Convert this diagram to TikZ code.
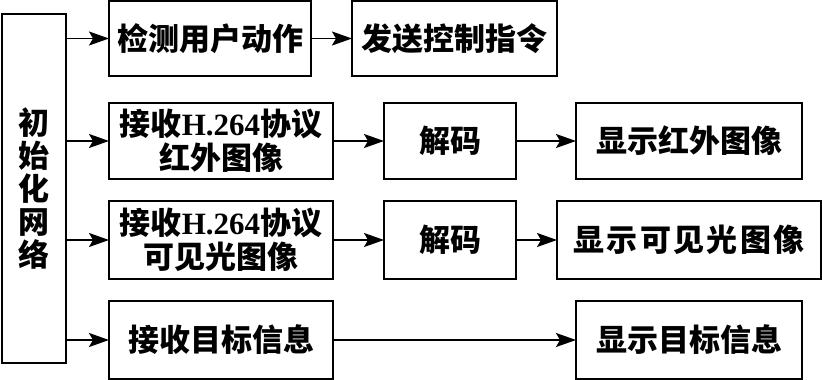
\documentclass[tikz,border=0pt]{standalone}
\usepackage{fontspec}
\setmainfont{Noto Sans CJK SC}
\newfontfamily\latinbf{Liberation Serif}
\usepackage{tikz}
\usetikzlibrary{arrows.meta}

\begin{document}
\begin{tikzpicture}[x=1pt,y=-1pt,
            box/.style={draw, line width=1.8pt, inner sep=0pt, outer sep=0pt, align=center,
                        font=\fontsize{31}{34}\selectfont\bfseries},
            arr/.style={line width=1.8pt, -{Stealth[length=20pt,width=14pt,inset=4pt]}}]
        \useasboundingbox (0,0) rectangle (822,380);
        \node[box, minimum width=64pt, minimum height=349pt, font=\fontsize{31}{33}\selectfont\bfseries] (init) at (34,188.5) {初\\始\\化\\网\\络};
        \node[box, minimum width=202pt, minimum height=75pt] (det)  at (210,38.5)  {检测用户动作};
        \node[box, minimum width=205pt, minimum height=75pt] (send) at (454.5,38.5) {发送控制指令};
        \node[box, minimum width=224pt, minimum height=76pt] (rxa)  at (221,141)  {接收{\latinbf H.264}协议\\红外图像};
        \node[box, minimum width=132pt, minimum height=76pt] (deca) at (450,141)  {解码};
        \node[box, minimum width=226pt, minimum height=76pt] (ir)   at (689,141)  {显示红外图像};
        \node[box, minimum width=224pt, minimum height=78pt] (rxb)  at (221,240)  {接收{\latinbf H.264}协议\\可见光图像};
        \node[box, minimum width=132pt, minimum height=78pt] (decb) at (450,240)  {解码};
        \node[box, minimum width=264pt, minimum height=78pt] (vis)  at (689,240)  {\addfontfeature{LetterSpace=8}显示可见光图像};
        \node[box, minimum width=224pt, minimum height=78pt] (rxt)  at (221,340)  {接收目标信息};
        \node[box, minimum width=226pt, minimum height=78pt] (tgt)  at (689,340)  {显示目标信息};
        \draw[arr] (init.east |- det.west) -- (det.west);
        \draw[arr] (init.east |- rxa.west) -- (rxa.west);
        \draw[arr] (init.east |- rxb.west) -- (rxb.west);
        \draw[arr] (init.east |- rxt.west) -- (rxt.west);
        \draw[arr] (det) -- (send);
        \draw[arr] (rxa) -- (deca);
        \draw[arr] (deca) -- (ir);
        \draw[arr] (rxb) -- (decb);
        \draw[arr] (decb) -- (vis);
        \draw[arr] (rxt) -- (tgt);
      \end{tikzpicture}
\end{document}
